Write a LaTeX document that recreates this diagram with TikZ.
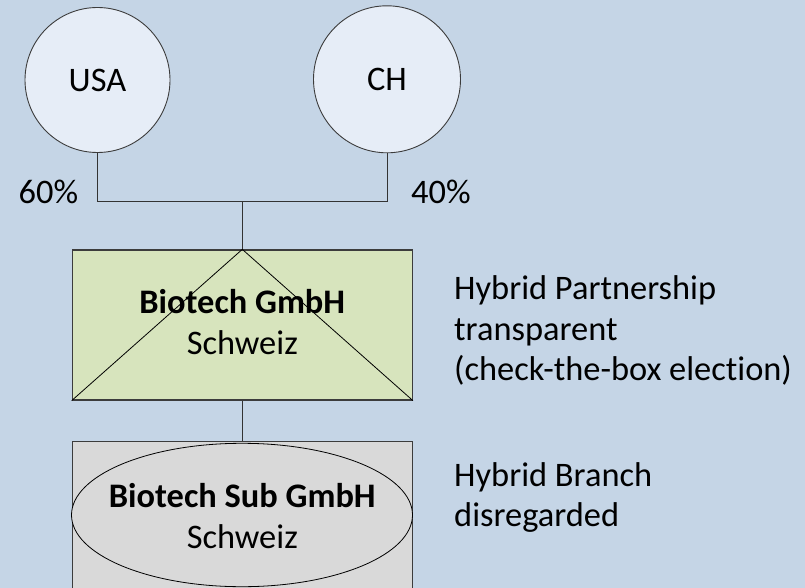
\documentclass[tikz,border=0pt]{standalone}
\usepackage{fontspec}
\setmainfont{Carlito}[Ligatures=NoCommon]
\usetikzlibrary{shapes.geometric}
\definecolor{bgblue}{RGB}{197,213,230}
\definecolor{circfill}{RGB}{230,237,247}
\definecolor{greenfill}{RGB}{215,228,189}
\definecolor{grayfill}{RGB}{217,217,217}
\definecolor{edge}{RGB}{60,60,60}
\tikzset{
  every node/.style={font=\fontsize{34.4}{41}\selectfont},
  owner/.style={circle, draw=edge, line width=0.9pt, fill=circfill, minimum size=#1, inner sep=0pt},
  entity/.style={rectangle, draw=edge, line width=1.3pt, minimum width=340pt, minimum height=150pt, inner sep=0pt},
  txt/.style={inner sep=0pt, anchor=base},
  note/.style={inner sep=0pt, anchor=base west},
  link/.style={draw=black!80, line width=0.9pt},
  thin/.style={draw=black, line width=0.8pt}
}
\begin{document}
\begin{tikzpicture}[x=1pt, y=-1pt]
  \clip (0,0) rectangle (805,588);
  \fill[bgblue] (0,0) rectangle (805,588);

  % shareholders
  \node[owner=145pt] (usa) at (97.5,80) {USA};
  \node[owner=147pt] (ch) at (387,79.3) {CH};
  \node[txt, anchor=base west] (p60) at (18.5,204) {60\%};
  \node[txt, anchor=base west] (p40) at (411,204) {40\%};

  % partnership
  \node[entity, fill=greenfill] (gmbh) at (242.3,325) {};
  \draw[thin] (gmbh.north) -- (gmbh.south west);
  \draw[thin] (gmbh.north) -- (gmbh.south east);
  \node[txt, font=\fontsize{34.4}{41}\bfseries] (gmbhname) at (242.3,313.3) {Biotech GmbH};
  \node[txt] (gmbhsub) at (242.3,354.3) {Schweiz};

  % subsidiary
  \node[entity, fill=grayfill, minimum height=170pt] (sub) at (242.3,526.7) {};
  \node[ellipse, thin, fill=grayfill, minimum width=341pt, minimum height=143.4pt, inner sep=0pt] (subov) at (242,515) {};
  \node[txt, font=\fontsize{34.4}{41}\bfseries] (subname) at (242.3,507.3) {Biotech Sub GmbH};
  \node[txt] (subsub) at (242.3,548.3) {Schweiz};

  % ownership lines
  \coordinate (j) at (242.3,201.5);
  \draw[link] (usa.south) |- (j) -| (ch.south);
  \draw[link] (j) -- (gmbh.north);
  \draw[link] (gmbh.south) -- (sub.north);

  % classification notes
  \node[note] (n1) at (454,299) {Hybrid Partnership};
  \node[note] (n2) at (454,340) {transparent};
  \node[note] (n3) at (454,380) {(check-the-box election)};
  \node[note] (n4) at (454,486.7) {Hybrid Branch};
  \node[note] (n5) at (454,526.7) {disregarded};
\end{tikzpicture}
\end{document}
